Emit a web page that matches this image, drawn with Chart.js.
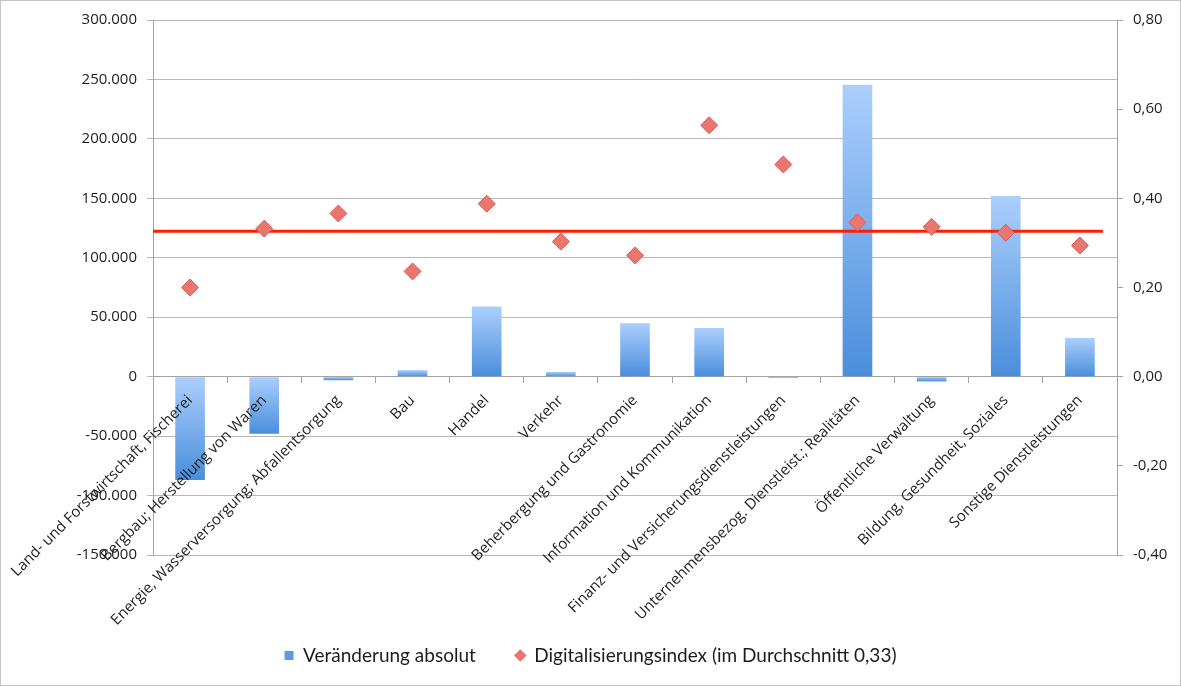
<!DOCTYPE html>
<html lang="de">
<head>
<meta charset="utf-8">
<title>Veränderung absolut und Digitalisierungsindex</title>
<script src="https://cdn.jsdelivr.net/npm/chart.js@4.4.1/dist/chart.umd.min.js"></script>
<style>
    html, body { margin: 0; padding: 0; background: #fff; }
    .frame {
        width: 1181px;
        height: 686px;
        box-sizing: border-box;
        border: 1px solid #c4c4c4;
    }
    .chart-box { position: relative; width: 1179px; height: 684px; }
</style>
</head>
<body>
<div class="frame">
    <div class="chart-box"><canvas id="digiChart"></canvas></div>
</div>
<script>
// Branchen (x-Achse)
const categories = [
    'Land- und Forstwirtschaft, Fischerei',
    'Bergbau; Herstellung von Waren',
    'Energie, Wasserversorgung; Abfallentsorgung',
    'Bau',
    'Handel',
    'Verkehr',
    'Beherbergung und Gastronomie',
    'Information und Kommunikation',
    'Finanz- und Versicherungsdienstleistungen',
    'Unternehmensbezog. Dienstleist.; Realitäten',
    'Öffentliche Verwaltung',
    'Bildung, Gesundheit, Soziales',
    'Sonstige Dienstleistungen'
];

// Veränderung absolut (linke Achse)
const changeAbsolute = [-87000, -48000, -3000, 5500, 59000, 4000, 45000, 41000, -1000, 245500, -4000, 152000, 32500];

// Digitalisierungsindex (rechte Achse)
const digitalIndex = [0.200, 0.332, 0.366, 0.236, 0.388, 0.303, 0.272, 0.564, 0.476, 0.346, 0.336, 0.323, 0.294];

// Durchschnittslinie
const averageIndex = 0.326;
const averageLineFrom = -0.5;
const averageLineTo = 12.31;

// Achsen
const leftAxisMin = -150000;
const leftAxisMax = 300000;
const leftAxisStep = 50000;
const rightAxisMin = -0.4;
const rightAxisMax = 0.8;
const rightAxisStep = 0.2;

const barTopColor = '#abcffd';
const barBottomColor = '#4a8edb';
const legendBarColor = '#5b9be0';
const gridColor = '#b8b8b8';
const axisColor = '#a3a3a3';
const textColor = '#1c1c1c';

function barGradient(context) {
    const chart = context.chart;
    const { ctx, chartArea, scales } = chart;
    if (!chartArea || context.type !== 'data') {
        return barBottomColor;
    }
    const v = context.raw;
    const top = scales.y.getPixelForValue(Math.max(v, 0));
    const bottom = scales.y.getPixelForValue(Math.min(v, 0));
    if (bottom - top < 1) {
        return barTopColor;
    }
    const g = ctx.createLinearGradient(0, top, 0, bottom);
    g.addColorStop(0, barTopColor);
    g.addColorStop(1, barBottomColor);
    return g;
}

const ctx = document.getElementById('digiChart');

new Chart(ctx, {
    type: 'bar',
    data: {
        labels: categories,
        datasets: [
            {
                label: 'Veränderung absolut',
                data: changeAbsolute,
                backgroundColor: barGradient,
                borderWidth: 0,
                grouped: false,
                barPercentage: 0.4,
                categoryPercentage: 1,
                yAxisID: 'y',
                xAxisID: 'x',
                order: 3
            },
            {
                type: 'line',
                label: 'Digitalisierungsindex (im Durchschnitt 0,33)',
                data: digitalIndex,
                showLine: false,
                pointStyle: 'rectRot',
                pointRadius: 8.5,
                pointHoverRadius: 8.5,
                pointBackgroundColor: '#eb766f',
                pointBorderColor: '#d55e58',
                pointBorderWidth: 1,
                backgroundColor: '#eb766f',
                borderColor: '#d55e58',
                yAxisID: 'y2',
                xAxisID: 'x',
                order: 1
            },
            {
                type: 'line',
                label: 'Durchschnitt',
                data: [
                    { x: averageLineFrom, y: averageIndex },
                    { x: averageLineTo, y: averageIndex }
                ],
                borderColor: '#ff1f00',
                borderWidth: 3,
                pointRadius: 0,
                fill: false,
                yAxisID: 'y2',
                xAxisID: 'xLine',
                order: 2
            }
        ]
    },
    options: {
        responsive: true,
        maintainAspectRatio: false,
        animation: false,
        layout: {
            padding: { top: 18, right: 0, bottom: 10, left: 0 }
        },
        plugins: {
            tooltip: { enabled: false },
            legend: {
                position: 'bottom',
                labels: {
                    usePointStyle: true,
                    boxWidth: 9,
                    boxHeight: 9,
                    padding: 40,
                    color: textColor,
                    font: { family: 'Lato', size: 19 },
                    sort: (a, b) => a.datasetIndex - b.datasetIndex,
                    generateLabels(chart) {
                        const items = Chart.defaults.plugins.legend.labels.generateLabels(chart);
                        return items
                            .filter(item => item.datasetIndex !== 2)
                            .map(item => {
                                if (item.datasetIndex === 0) {
                                    item.fillStyle = legendBarColor;
                                    item.strokeStyle = legendBarColor;
                                    item.pointStyle = 'rect';
                                } else {
                                    item.pointStyle = 'rectRot';
                                }
                                item.lineWidth = 0;
                                return item;
                            });
                    }
                }
            }
        },
        scales: {
            x: {
                type: 'category',
                position: { y: 0 },
                grid: {
                    offset: true,
                    drawOnChartArea: false,
                    tickLength: 6,
                    color: axisColor
                },
                border: { color: axisColor },
                ticks: {
                    z: 1,
                    autoSkip: false,
                    maxRotation: 45,
                    minRotation: 45,
                    padding: 9,
                    color: textColor,
                    font: { family: 'Open Sans', size: 15 }
                },
                afterFit(scale) {
                    scale.paddingLeft = 0;
                    scale.paddingRight = 0;
                }
            },
            xLine: {
                type: 'linear',
                position: 'bottom',
                offset: false,
                min: -0.5,
                max: 12.5,
                ticks: { display: false },
                grid: { display: false, offset: false },
                border: { display: false },
                afterFit(scale) {
                    scale.height = 51;
                    scale.paddingLeft = 0;
                    scale.paddingRight = 0;
                }
            },
            y: {
                position: 'left',
                min: leftAxisMin,
                max: leftAxisMax,
                grid: {
                    color: gridColor,
                    tickLength: 6
                },
                border: { color: axisColor },
                ticks: {
                    stepSize: leftAxisStep,
                    padding: 10,
                    color: textColor,
                    font: { family: 'Open Sans', size: 15 },
                    callback: value => value.toLocaleString('de-DE')
                },
                afterFit(scale) {
                    scale.width = 152;
                }
            },
            y2: {
                position: 'right',
                min: rightAxisMin,
                max: rightAxisMax,
                grid: {
                    drawOnChartArea: false,
                    color: axisColor,
                    tickLength: 6
                },
                border: { color: axisColor },
                ticks: {
                    stepSize: rightAxisStep,
                    padding: 10,
                    color: textColor,
                    font: { family: 'Open Sans', size: 15 },
                    callback: value => (Math.abs(value) < 1e-9 ? 0 : value).toFixed(2).replace('.', ',')
                },
                afterFit(scale) {
                    scale.width = 63;
                }
            }
        }
    }
});
</script>
</body>
</html>
